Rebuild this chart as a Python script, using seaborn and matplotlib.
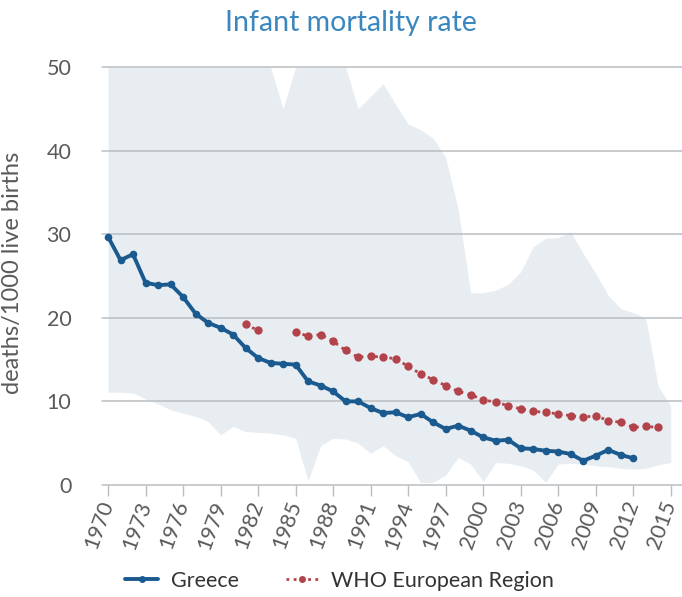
import numpy as np
import pandas as pd
import matplotlib
matplotlib.use("Agg")
import matplotlib.pyplot as plt
import seaborn as sns
from matplotlib.lines import Line2D

# ---------------- data ----------------
greece_years = list(range(1970, 2013))
greece_values = [29.7, 26.9, 27.6, 24.2, 23.9, 24.0, 22.5, 20.5, 19.4, 18.8,
                 18.0, 16.4, 15.2, 14.6, 14.5, 14.4, 12.4, 11.9, 11.2, 10.0,
                 10.0, 9.2, 8.6, 8.7, 8.1, 8.5, 7.5, 6.7, 7.1, 6.5,
                 5.7, 5.3, 5.4, 4.4, 4.3, 4.1, 4.0, 3.7, 2.9, 3.5,
                 4.2, 3.6, 3.2]

who_years = [1981, 1982] + list(range(1985, 2015))
who_values = [19.2, 18.5,
              18.3, 17.8, 18.0, 17.2, 16.1, 15.3, 15.4, 15.3, 15.1, 14.2,
              13.3, 12.6, 11.9, 11.2, 10.8, 10.2, 9.9, 9.5, 9.1, 8.8,
              8.7, 8.5, 8.3, 8.1, 8.3, 7.7, 7.5, 6.9, 7.0, 6.9]
who_segment = [1, 1] + [2] * 30

band_years = list(range(1970, 2016))
band_max = [50, 50, 50, 50, 50, 50, 50, 50, 50, 50,
            50, 50, 50, 50, 45, 50, 50, 50, 50, 50,
            45, 46.5, 48, 45.5, 43.2, 42.5, 41.5, 39.2, 33, 23,
            23, 23.3, 24, 25.5, 28.5, 29.5, 29.6, 30.3, 27.7, 25.3,
            22.7, 21.1, 20.6, 20, 11.8, 9.5]
band_min = [11.1, 11.1, 11.0, 10.3, 9.7, 9.0, 8.6, 8.2, 7.6, 6.0,
            7.0, 6.4, 6.3, 6.2, 6.0, 5.6, 0.5, 4.7, 5.6, 5.5,
            5.0, 3.8, 4.7, 3.5, 2.8, 0.3, 0.3, 1.2, 3.3, 2.5,
            0.4, 2.7, 2.6, 2.3, 1.8, 0.3, 2.5, 2.6, 2.5, 2.3,
            2.2, 2.0, 1.9, 2.0, 2.4, 2.7]

xtick_years = list(range(1970, 2016, 3))
ytick_values = [0, 10, 20, 30, 40, 50]

title = "Infant mortality rate"
ylabel = "deaths/1000 live births"
labels = ["Greece", "WHO European Region"]

# ---------------- style ----------------
sns.set_theme(style="white")
plt.rcParams["font.family"] = ["Lato", "DejaVu Sans"]

BLUE = "#1b5a8f"
RED = "#b3434a"
BAND = "#e8edf2"
GRID = "#b9bec2"
TXT = "#5a5a5a"

fig = plt.figure(figsize=(6.82, 5.97), dpi=100)
ax = fig.add_axes([102 / 682, 1 - 485 / 597, 580 / 682, (485 - 67) / 597])

ax.fill_between(band_years, band_min, band_max, color=BAND, lw=0, zorder=1)
for v in ytick_values:
    ax.axhline(v, color=GRID, lw=1.1, zorder=2, clip_on=False)

gr = pd.DataFrame({"year": greece_years, "value": greece_values})
wh = pd.DataFrame({"year": who_years, "value": who_values, "seg": who_segment})

sns.lineplot(data=gr, x="year", y="value", ax=ax, color=BLUE, lw=2.8,
             marker="o", markersize=5.5, markeredgewidth=0, zorder=4)
sns.lineplot(data=wh, x="year", y="value", units="seg", estimator=None, ax=ax,
             color=RED, lw=2.0, ls=(0, (1, 1.6)), marker="o", markersize=6,
             markeredgewidth=0, zorder=3)

ax.set_xlim(1969.52, 2015.9)
ax.set_ylim(0, 50)
ax.set_xticks(xtick_years)
ax.set_xticklabels([str(y) for y in xtick_years], rotation=70,
                   ha="right", va="center", rotation_mode="anchor")
ax.set_yticks(ytick_values)
ax.set_yticklabels([str(v) for v in ytick_values])
for s in ax.spines.values():
    s.set_visible(False)
ax.grid(False)
ax.tick_params(axis="x", length=8, width=1, color=GRID, labelsize=15.5,
               labelcolor=TXT, pad=4, direction="out", bottom=True)
ax.tick_params(axis="y", length=0, labelsize=15.5, labelcolor=TXT, pad=22)
ax.set_xlabel("")
ax.set_ylabel(ylabel, fontsize=17, color=TXT)
ax.yaxis.set_label_coords(-(102 - 23) / 580, (485 - 273) / 418)
if ax.get_legend() is not None:
    ax.get_legend().remove()

fig.text(351 / 682, 1 - 23 / 597, title, ha="center", va="center",
         fontsize=20.5, color="#3a87c0")

handles = [
    Line2D([0, 0.5, 1], [0, 0, 0], color=BLUE, lw=2.8, marker="o", markersize=5,
           markevery=[1], markeredgewidth=0),
    Line2D([0, 0.5, 1], [0, 0, 0], color=RED, lw=2.0, ls=(0, (1, 1.6)), marker="o",
           markersize=5, markevery=[1], markeredgewidth=0),
]
fig.legend(handles, labels, loc="center left", bbox_to_anchor=(106 / 682, 1 - 581 / 597),
           ncol=2, frameon=False, fontsize=15.5, labelcolor="#333333",
           handlelength=1.5, handletextpad=0.6, columnspacing=2.2)

fig.savefig("out.png", dpi=100)
